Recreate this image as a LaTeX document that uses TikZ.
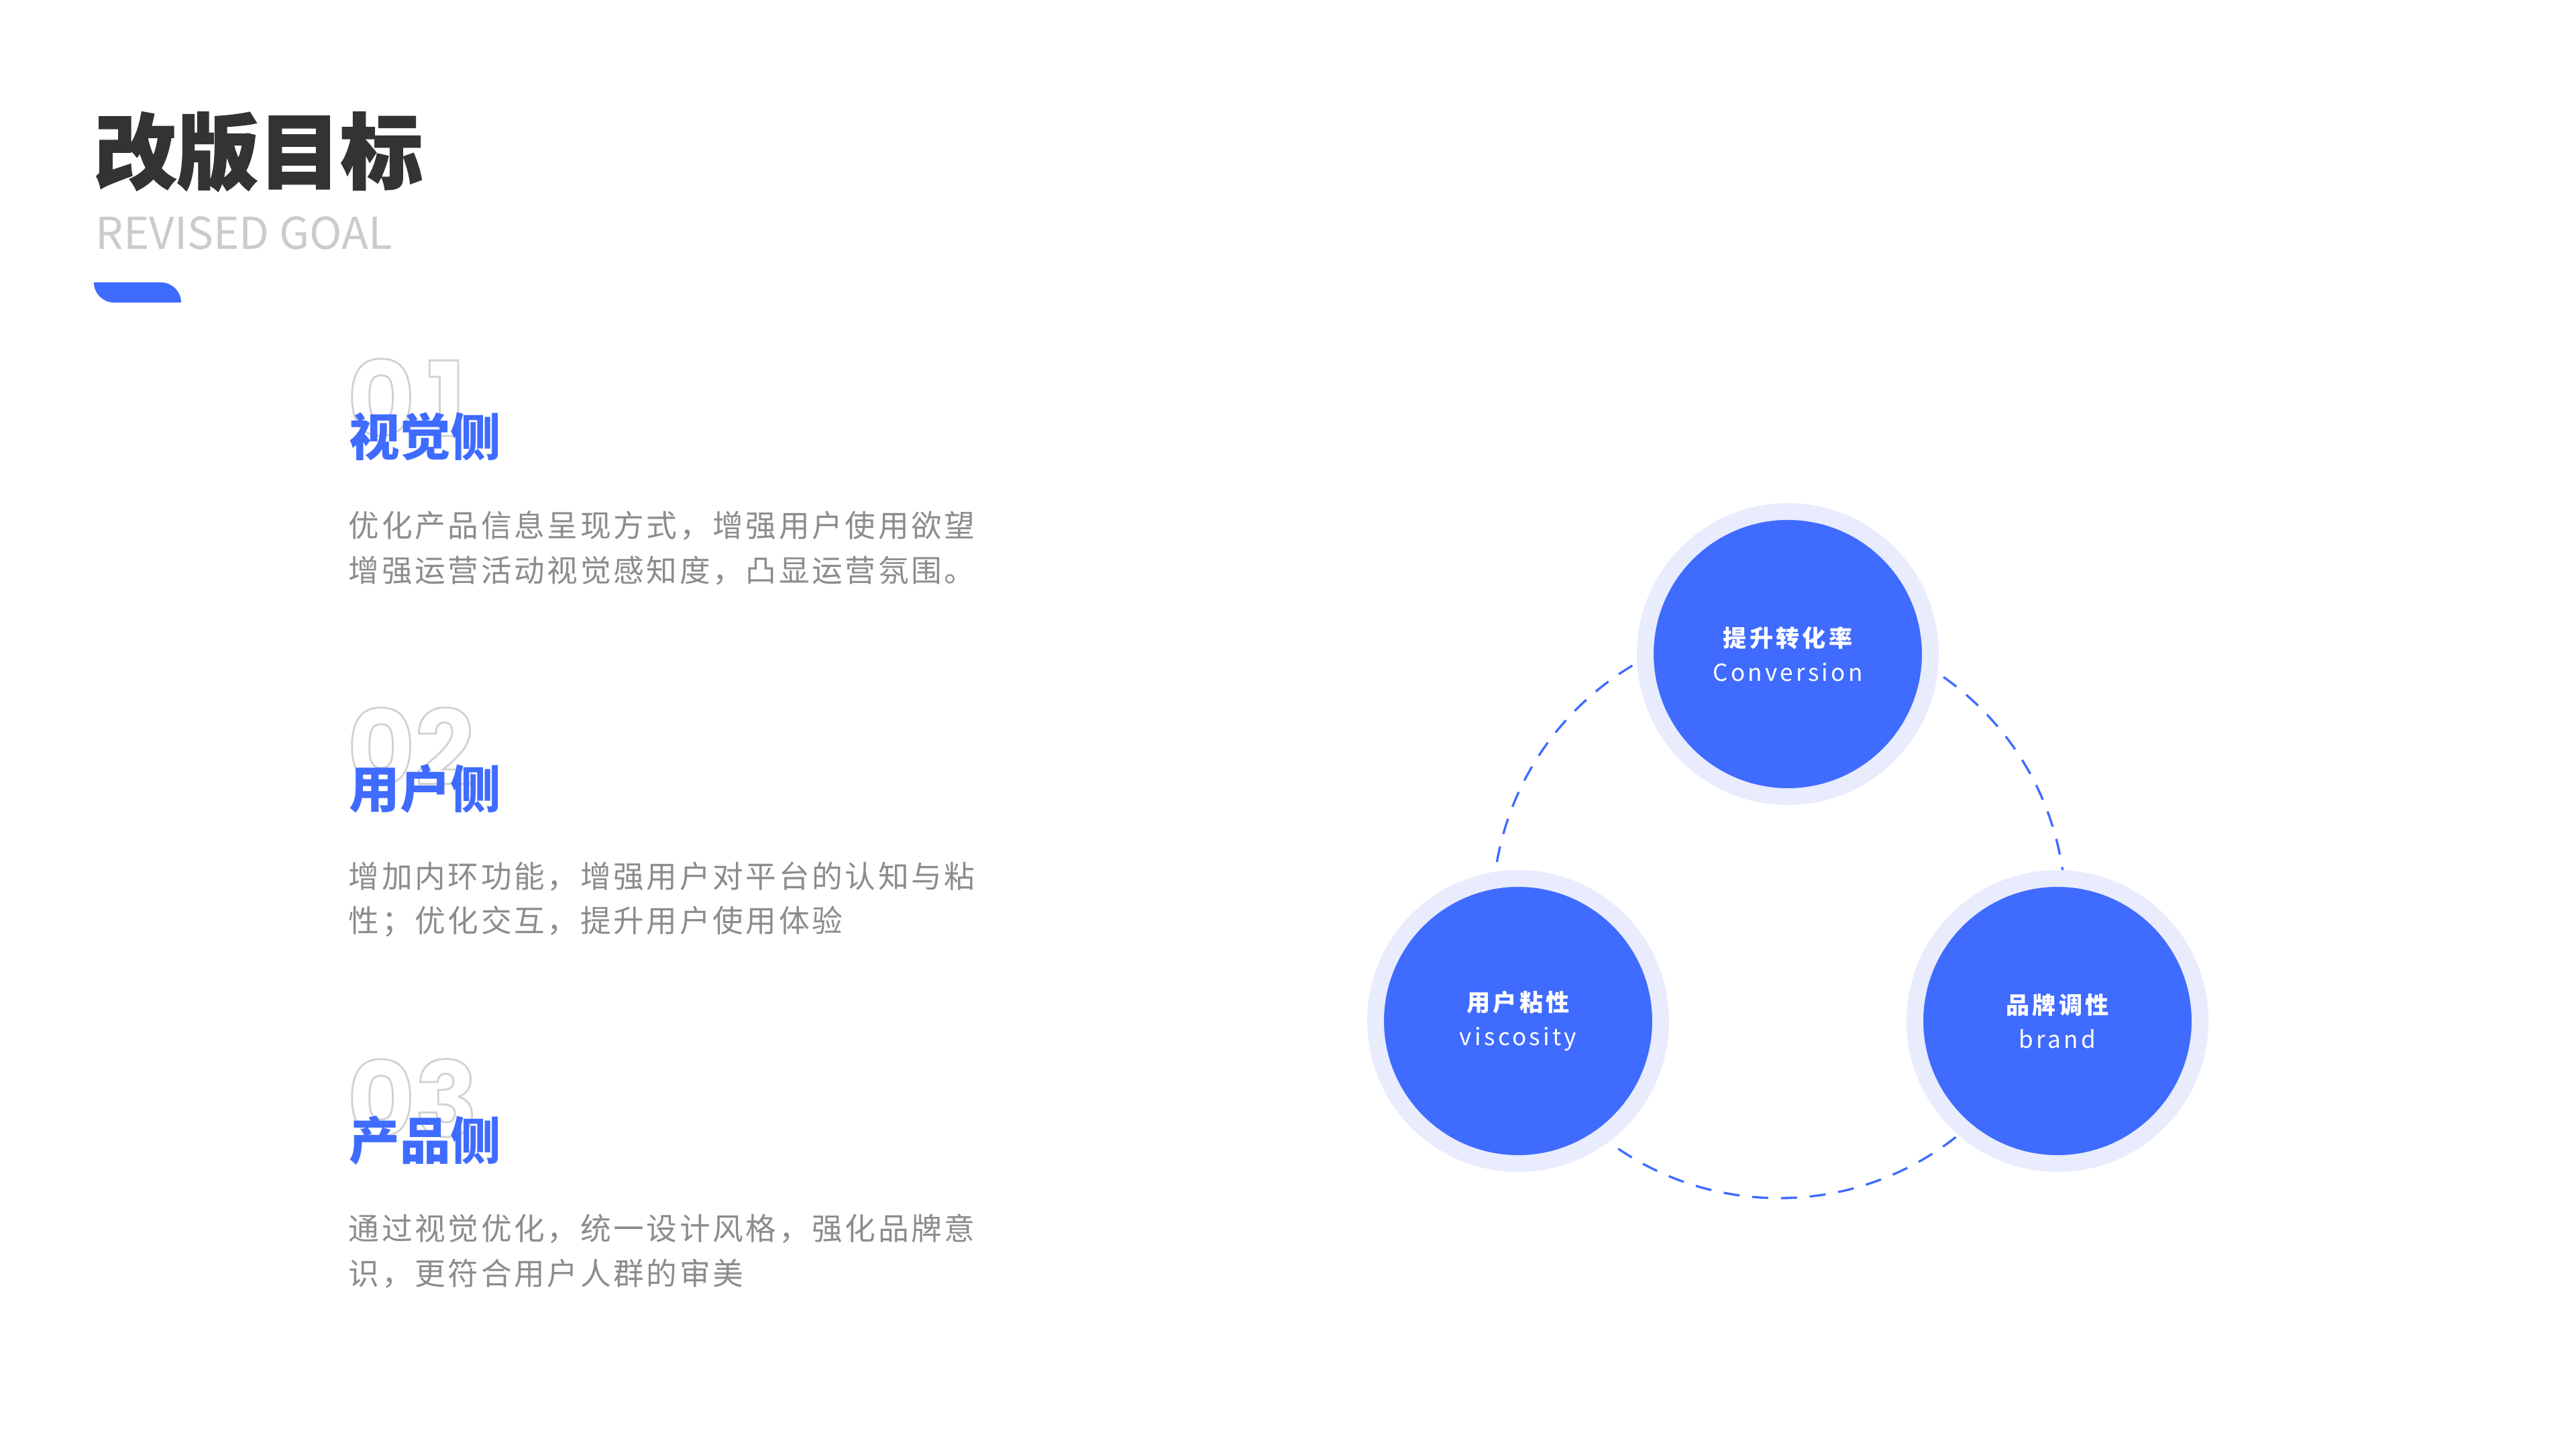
\documentclass[tikz,border=0pt]{standalone}
\usepackage{fontspec}
\setmainfont{Noto Sans CJK SC}
\newfontfamily\titlefont[BoldFeatures={FakeBold=1.6}]{Noto Sans CJK SC}
\newfontfamily\spacedfont[LetterSpace=8]{Noto Sans CJK SC}
\newfontfamily\labelfont[LetterSpace=12]{Noto Sans CJK SC}
\newfontfamily\numfont[Numbers=Monospaced]{Poppins}

\definecolor{azul}{HTML}{3F6BFF}
\definecolor{halo}{HTML}{E8ECFD}
\definecolor{oscuro}{HTML}{333333}
\definecolor{gristexto}{HTML}{8C8C8C}
\definecolor{grisclaro}{HTML}{CBCBCB}

\tikzset{
  encabezado/.style={anchor=west,inner sep=0,text=azul,font=\fontsize{21.5pt}{22pt}\selectfont\bfseries},
  cuerpo/.style={anchor=west,inner sep=0,align=left,text=gristexto,font=\spacedfont\fontsize{13pt}{18.8pt}\selectfont},
  numero/.style={anchor=base west,inner sep=0,font=\numfont\bfseries\fontsize{44pt}{44pt}\selectfont},
  meta/.style={circle,fill=azul,draw=halo,line width=0.25cm,minimum size=4.25cm,inner sep=0,
    align=center,text=white,font=\labelfont\fontsize{10pt}{14.5pt}\selectfont},
}
% numeros solo con contorno
\newcommand{\contorno}[1]{\special{pdf:literal q 1 Tr 0.8 w 0.82 0.82 0.82 RG}#1\special{pdf:literal Q}}

\begin{document}
\begin{tikzpicture}
\useasboundingbox (0,0) rectangle (38.4,-21.6);
\fill[white] (0,0) rectangle (38.4,-21.6);
% titulo
\node[anchor=west,inner sep=0,text=oscuro,font=\titlefont\bfseries\fontsize{34.8pt}{35pt}\selectfont] (titulo) at (1.40,-2.26) {改版目标};
\node[anchor=west,inner sep=0,text=grisclaro,font=\fontsize{18.6pt}{20pt}\selectfont] (subtitulo) at (1.42,-3.48) {REVISED GOAL};
\fill[azul] (1.40,-4.21) -- (2.40,-4.21) arc[start angle=90,end angle=0,radius=0.30]
  -- (1.70,-4.51) arc[start angle=270,end angle=180,radius=0.30] -- cycle;
% secciones
\node[numero] (n1) at (5.17,-6.50) {\contorno{0\kern5pt 1}};
\node[encabezado] (h1) at (5.20,-6.51) {视觉侧};
\node[cuerpo] (c1) at (5.19,-8.17) {优化产品信息呈现方式，增强用户使用欲望\\增强运营活动视觉感知度，凸显运营氛围。};
\node[numero] (n2) at (5.17,-11.70) {\contorno{02}};
\node[encabezado] (h2) at (5.20,-11.76) {用户侧};
\node[cuerpo] (c2) at (5.19,-13.41) {增加内环功能，增强用户对平台的认知与粘\\性；优化交互，提升用户使用体验};
\node[numero] (n3) at (5.17,-16.94) {\contorno{03}};
\node[encabezado] (h3) at (5.20,-17.00) {产品侧};
\node[cuerpo] (c3) at (5.19,-18.65) {通过视觉优化，统一设计风格，强化品牌意\\识，更符合用户人群的审美};
% anillo
\coordinate (centro) at (26.52,-13.59);
\draw[azul,line width=0.95pt,dash pattern=on 6.8pt off 5.4pt] (centro) circle (4.27);
% circulos
\node[meta] (conv) at (26.65,-9.75) {{\bfseries 提升转化率}\\Conversion};
\node[meta] (visc) at (22.63,-15.22) {{\bfseries 用户粘性}\\viscosity};
\node[meta] (marca) at (30.67,-15.22) {{\bfseries 品牌调性}\\brand};
\end{tikzpicture}
\end{document}
